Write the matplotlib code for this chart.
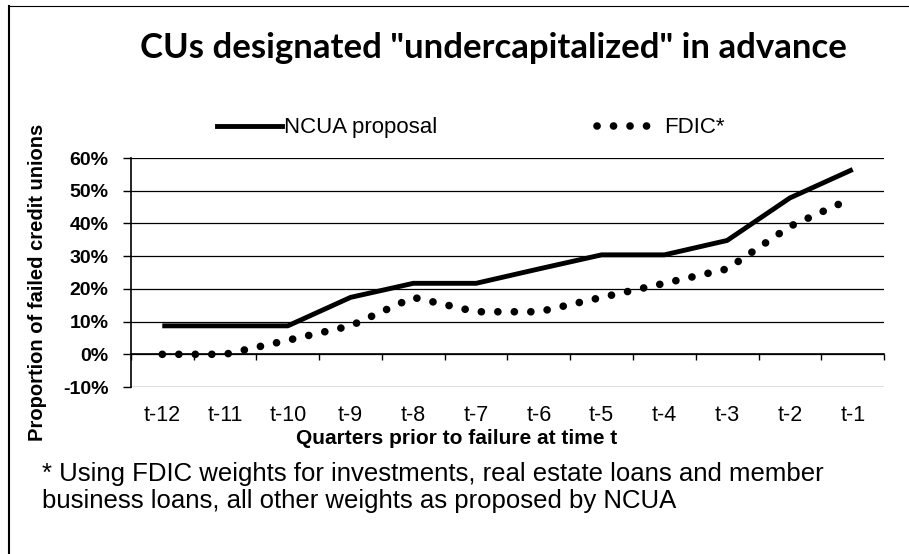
import numpy as np
import matplotlib.pyplot as plt
from matplotlib.lines import Line2D
from matplotlib.ticker import PercentFormatter

# data (share of 23 failed CUs)
quarters = ['t-12', 't-11', 't-10', 't-9', 't-8', 't-7', 't-6', 't-5', 't-4', 't-3', 't-2', 't-1']
ncua = [8.7, 8.7, 8.7, 17.4, 21.7, 21.7, 26.1, 30.4, 30.4, 34.8, 47.8, 56.5]
fdic = [0.0, 0.0, 4.3, 8.7, 17.4, 13.0, 13.0, 17.4, 21.7, 26.1, 39.1, 47.8]
yticks = [-10, 0, 10, 20, 30, 40, 50, 60]

plt.rcParams['axes.unicode_minus'] = False
arial = ['Liberation Sans', 'DejaVu Sans']
dots = (0, (0.01, 2.15))

fig = plt.figure(figsize=(9.09, 5.54), dpi=100)
ax = fig.add_axes([0.144, 0.3014, 0.8286, 0.4134])

x = np.arange(len(quarters))
ax.plot(x, ncua, color='black', lw=3.5, solid_capstyle='butt')
ax.plot(x, fdic, color='black', lw=5.5, linestyle=dots, dash_capstyle='round')

ax.set_xlim(-0.5, len(quarters) - 0.5)
ax.set_ylim(-10, 60)
ax.set_yticks(yticks)
ax.yaxis.set_major_formatter(PercentFormatter(decimals=0))
ax.grid(axis='y', color='black', lw=0.9)
ax.set_axisbelow(True)
for s in ['top', 'right', 'bottom']:
    ax.spines[s].set_visible(False)
ax.spines['left'].set_linewidth(1.2)
ax.tick_params(axis='y', direction='out', length=6, width=1, pad=10)
for lab in ax.get_yticklabels():
    lab.set_family(arial)
    lab.set_fontweight('bold')
    lab.set_fontsize(14)

ax.set_xticks(x)
ax.set_xticklabels(quarters, family=arial, fontsize=15.5)
ax.tick_params(axis='x', length=0, pad=13)

# category axis sits at 0%
sec = ax.secondary_xaxis(10 / 70)
sec.set_xticks(np.arange(-0.5, len(quarters), 1))
sec.tick_params(axis='x', direction='out', length=4, width=1, labelbottom=False)
sec.spines['bottom'].set_linewidth(1.2)

ax.set_ylabel('Proportion of failed credit unions', family=arial, fontweight='bold', fontsize=14.5)
ax.yaxis.set_label_coords(-0.112, 0.455)
ax.set_xlabel('Quarters prior to failure at time t', family=arial, fontweight='bold', fontsize=15)
ax.xaxis.set_label_coords(0.432, -0.185)

handles = [Line2D([], [], color='black', lw=3.5),
           Line2D([], [], color='black', lw=5.5, linestyle=dots, dash_capstyle='round')]
fig.legend(handles, ['NCUA proposal', 'FDIC*'], loc='center left', bbox_to_anchor=(0.217, 0.769),
           ncol=2, frameon=False, handlelength=2.9, handletextpad=0.1, columnspacing=7.2,
           prop={'family': arial, 'size': 16})

fig.text(0.543, 0.913, 'CUs designated "undercapitalized" in advance', ha='center', va='center',
         family=['Lato', 'DejaVu Sans'], fontweight='bold', fontsize=25)

fig.text(0.046, 0.12, '* Using FDIC weights for investments, real estate loans and member\n'
         'business loans, all other weights as proposed by NCUA', ha='left', va='center',
         family=arial, fontsize=18.5, linespacing=1.2)

# frame edges of the original screenshot
fig.add_artist(Line2D([0.0099, 0.0099], [0, 0.99], transform=fig.transFigure, color='black', lw=1.5))
fig.add_artist(Line2D([0.0099, 1], [0.99, 0.99], transform=fig.transFigure, color='black', lw=0.8))

fig.savefig('out.png', dpi=100)
